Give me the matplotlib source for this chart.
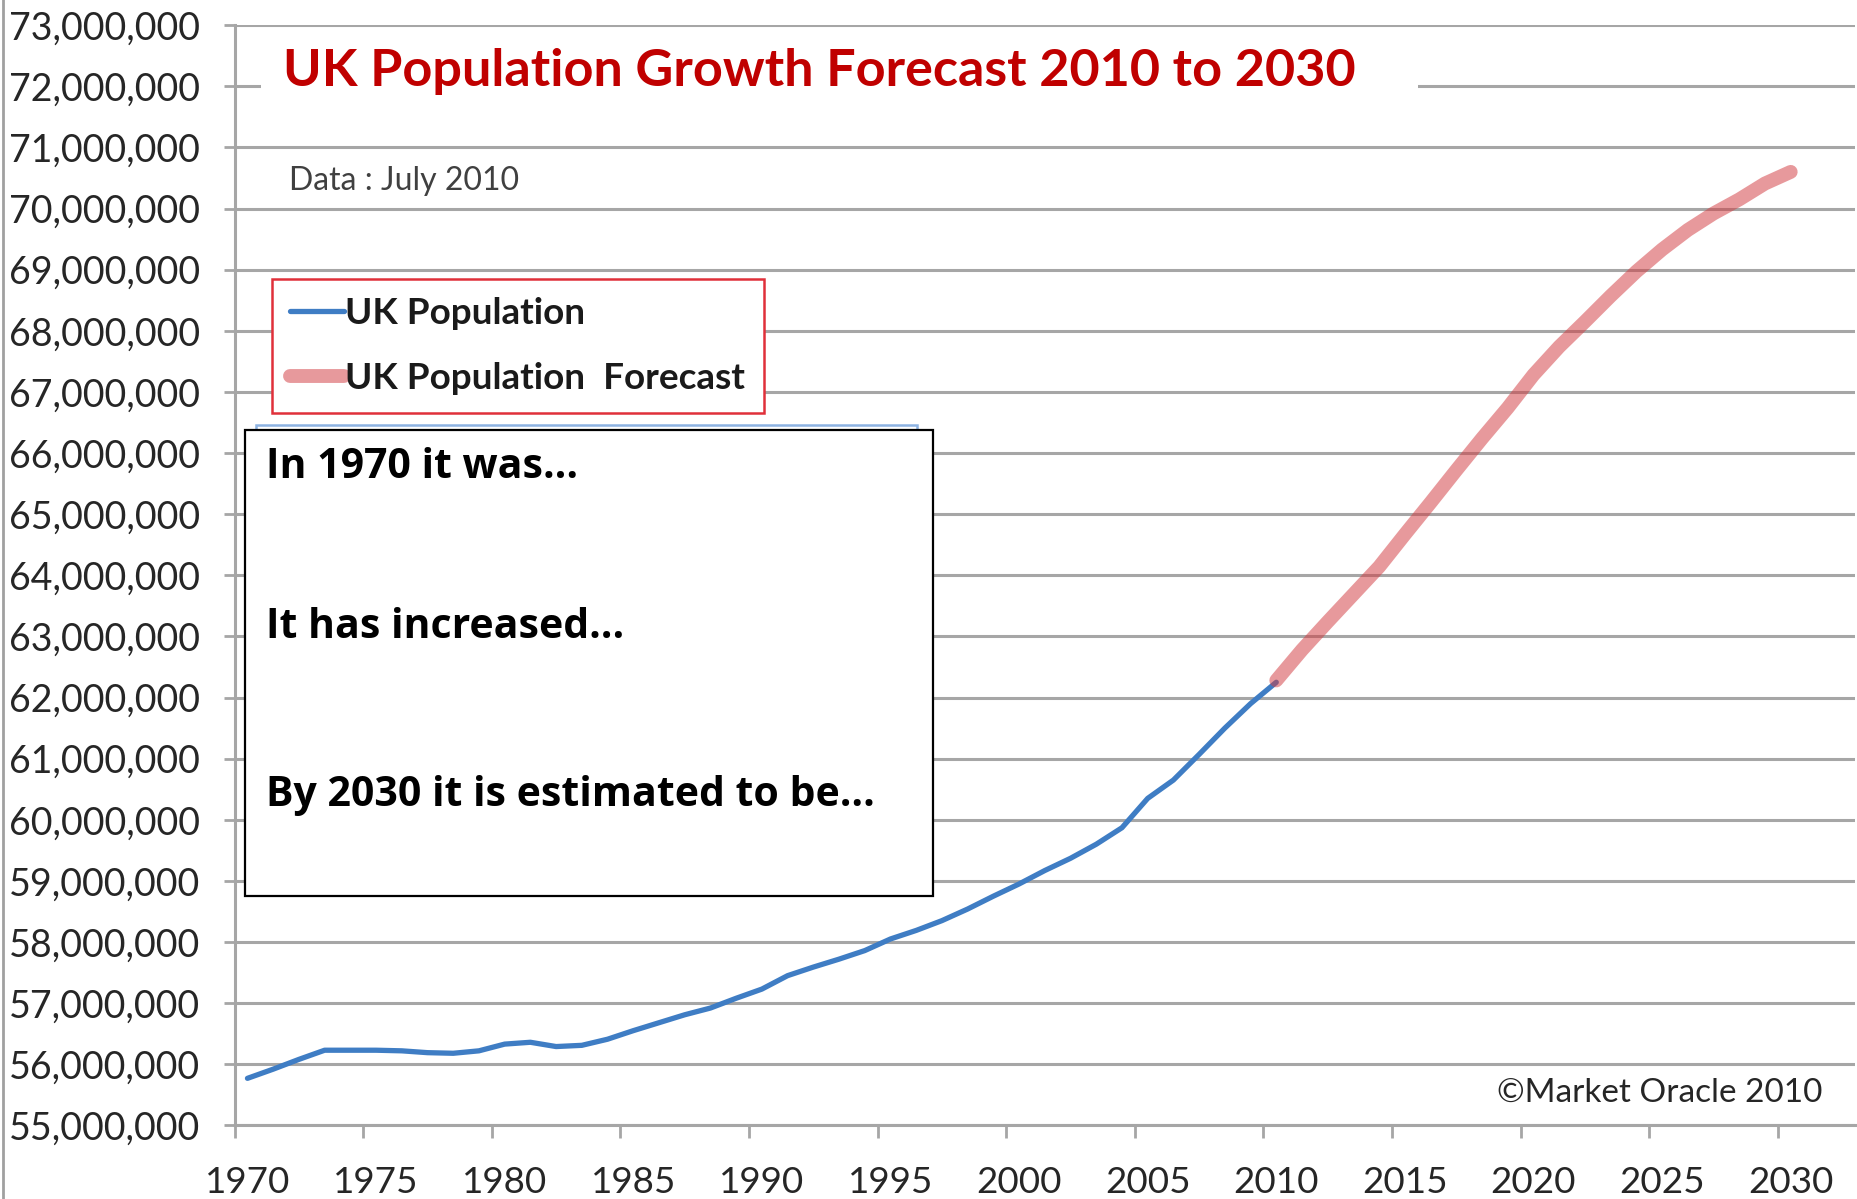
import matplotlib
matplotlib.use("Agg")
import matplotlib.pyplot as plt
from matplotlib.lines import Line2D
from matplotlib.patches import Rectangle

# ---------------- data (millions) ----------------
years_hist = list(range(1970, 2011))
pop_hist = [55.77, 55.92, 56.08, 56.23, 56.23, 56.23, 56.22, 56.19, 56.18, 56.22,
            56.33, 56.36, 56.29, 56.31, 56.41, 56.55, 56.68, 56.81, 56.92, 57.08,
            57.23, 57.45, 57.59, 57.72, 57.86, 58.05, 58.19, 58.35, 58.54, 58.75,
            58.95, 59.17, 59.37, 59.60, 59.87, 60.35, 60.65, 61.07, 61.50, 61.90, 62.25]
years_fc = list(range(2010, 2031))
pop_fc = [62.28, 62.78, 63.24, 63.69, 64.14, 64.67, 65.19, 65.72, 66.24, 66.74,
          67.28, 67.74, 68.15, 68.57, 68.97, 69.33, 69.65, 69.92, 70.15, 70.41, 70.60]
series_names = ["UK Population", "UK Population  Forecast"]
x_tick_labels = ["1970", "1975", "1980", "1985", "1990", "1995", "2000",
                 "2005", "2010", "2015", "2020", "2025", "2030"]
y_tick_values = list(range(55, 74))
title_text = "UK Population Growth Forecast 2010 to 2030"
subtitle_text = "Data : July 2010"
box_lines = ["In 1970 it was\u2026", "It has increased\u2026", "By 2030 it is estimated to be\u2026"]
credit_text = "\u00a9Market Oracle 2010"

# ---------------- style ----------------
CAL = ["Lato", "DejaVu Sans"]
GOTH = ["Open Sans", "DejaVu Sans"]
GRID = "#A6A6A6"
BLUE = "#3F7DC4"
PINK = "#D23C41"
W, H = 1858, 1199


def fx(px):
    return px / W


def fy(py):
    return 1 - py / H


fig = plt.figure(figsize=(W / 100, H / 100), dpi=100)
ax = fig.add_axes([fx(234.6), fy(1125.4), fx(1855) - fx(234.6), fy(25.2) - fy(1125.4)])

hist_vals = [v * 1e6 for v in pop_hist]
fc_vals = [v * 1e6 for v in pop_fc]
l1, = ax.plot(years_hist, hist_vals, color=BLUE, lw=3.8, solid_capstyle="round",
              solid_joinstyle="round", zorder=3, label=series_names[0])
l2, = ax.plot(years_fc, fc_vals, color=PINK, alpha=0.52, lw=10, solid_capstyle="round",
              solid_joinstyle="round", zorder=4, label=series_names[1])

ax.set_xlim(1969.5, 2032.5)
ax.set_ylim(55e6, 73e6)
ax.set_yticks([v * 1e6 for v in y_tick_values])
ax.set_yticklabels([f"{v * 1000000:,}" for v in y_tick_values], family=CAL)
ax.yaxis.grid(True, color=GRID, lw=2.2)
ax.set_axisbelow(True)

label_years = [int(s) for s in x_tick_labels]
ax.set_xticks([y - 0.5 for y in label_years])
ax.set_xticklabels([""] * len(label_years))
ax.set_xticks(label_years, minor=True)
ax.set_xticklabels(x_tick_labels, minor=True, family=CAL)

for s in ["top", "right"]:
    ax.spines[s].set_visible(False)
for s in ["left", "bottom"]:
    ax.spines[s].set_color(GRID)
    ax.spines[s].set_linewidth(2.2)

ax.tick_params(axis="y", length=8, width=2, color=GRID, labelcolor="#262626",
               labelsize=27, pad=17)
ax.tick_params(axis="x", which="major", length=9, width=2, color=GRID)
ax.tick_params(axis="x", which="minor", length=0, labelcolor="#262626",
               labelsize=26.5, pad=29)

# white patch behind the title
ax.add_patch(Rectangle((fx(261), fy(125)), fx(1418) - fx(261), fy(45) - fy(125),
                       transform=fig.transFigure, facecolor="white", edgecolor="none",
                       zorder=1, clip_on=False))
fig.text(fx(283), fy(71.5), title_text, color="#C00000", fontsize=37.5,
         fontweight="bold", family=CAL, va="center", ha="left")
fig.text(fx(289), fy(181), subtitle_text, color="#404040", fontsize=23,
         family=CAL, va="center", ha="left")

# legend
leg = ax.legend(handles=[l1, l2], loc="upper left",
                bbox_to_anchor=(fx(271.5), fy(278.7)), bbox_transform=fig.transFigure,
                borderaxespad=0, frameon=True, fancybox=False, framealpha=1,
                edgecolor="#E0303A", borderpad=0.5, labelspacing=0.86,
                handlelength=1.45, handletextpad=0.05,
                prop={"family": CAL, "weight": "bold", "size": 26.6})
leg.get_frame().set_linewidth(1.8)
leg.set_zorder(6)
for t in leg.get_texts():
    t.set_color("#1a1a1a")

# blue-edged shape behind the text box
ax.add_patch(Rectangle((fx(256), fy(890)), fx(917) - fx(256), fy(425) - fy(890),
                       transform=fig.transFigure, facecolor="white", edgecolor="#8DB3E2",
                       lw=1.8, zorder=5, clip_on=False))
# text box
ax.add_patch(Rectangle((fx(245), fy(895.6)), fx(932.6) - fx(245), fy(430) - fy(895.6),
                       transform=fig.transFigure, facecolor="white", edgecolor="black",
                       lw=1.6, zorder=5.5, clip_on=False))
for line, ypx in zip(box_lines, [467, 627.6, 795.6]):
    fig.text(fx(265.6), fy(ypx), line, fontsize=29.5, fontweight="bold", family=GOTH,
             color="black", va="center", ha="left", zorder=7)

fig.text(fx(1822), fy(1093), credit_text, fontsize=24, family=CAL, color="#262626",
         va="center", ha="right")

# outer border at left
fig.add_artist(Line2D([fx(3), fx(3)], [0, 1], color="#A0A0A0", lw=2))

fig.savefig("out.png", dpi=100, facecolor="white")
